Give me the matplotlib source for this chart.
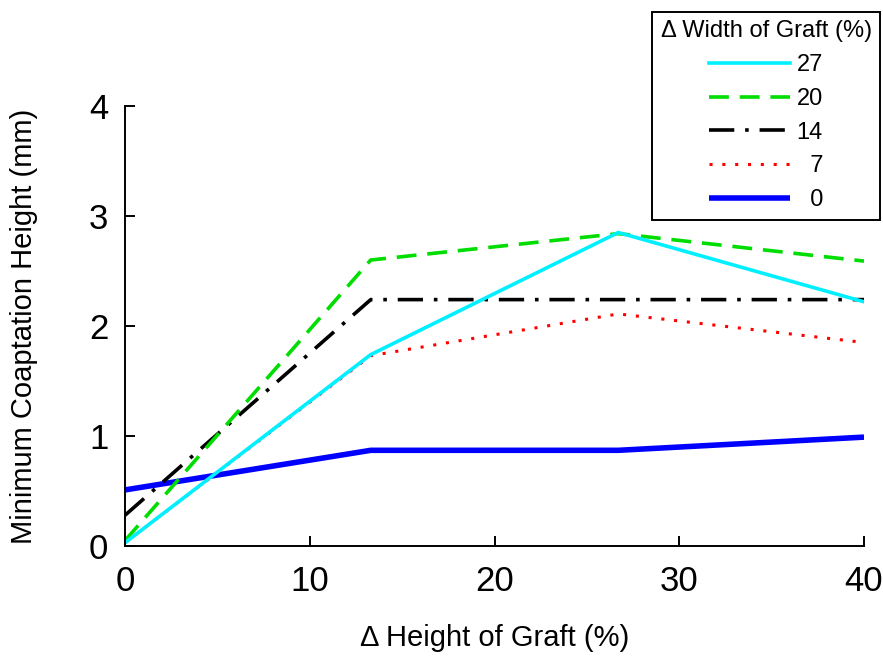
import matplotlib
matplotlib.use("Agg")
import matplotlib.pyplot as plt

plt.rcParams["font.family"] = ["Liberation Sans", "DejaVu Sans"]

# Data
height = [0, 13.3, 26.7, 40]
w27 = [0.03, 1.74, 2.85, 2.22]
w20 = [0.05, 2.60, 2.84, 2.59]
w14 = [0.28, 2.24, 2.24, 2.24]
w7 = [0.03, 1.73, 2.11, 1.85]
w0 = [0.51, 0.87, 0.87, 0.99]

fig = plt.figure(figsize=(8.83, 6.6), dpi=100)
ax = fig.add_axes([0.1416, 0.1727, 0.8369, 0.6667])

l0, = ax.plot(height, w0, color="#0000ff", lw=4.0, solid_capstyle="butt")
l7, = ax.plot(height, w7, color="#ff0000", lw=2.2, linestyle=(0, (1.0, 3.2)))
l14, = ax.plot(height, w14, color="black", lw=2.6, linestyle=(0, (7, 3, 1, 3)))
l20, = ax.plot(height, w20, color="#00dd00", lw=2.6, linestyle=(0, (5.5, 3)))
l27, = ax.plot(height, w27, color="#00f0ff", lw=2.6)

ax.set_xlim(0, 40)
ax.set_ylim(0, 4)
ax.set_xticks([0, 10, 20, 30, 40])
ax.set_yticks([0, 1, 2, 3, 4])

ax.spines["top"].set_visible(False)
ax.spines["right"].set_visible(False)
for s in ["left", "bottom"]:
    ax.spines[s].set_linewidth(1.4)

ax.tick_params(axis="both", direction="in", length=7, width=1.4, labelsize=25)
ax.tick_params(axis="x", pad=14)
ax.tick_params(axis="y", pad=12)

ax.set_xlabel("\u0394 Height of Graft (%)", fontsize=21)
ax.set_ylabel("Minimum Coaptation Height (mm)", fontsize=21)
ax.xaxis.set_label_coords(0.5, -0.178)
ax.yaxis.set_label_coords(-0.118, 0.5)

leg = fig.legend([l27, l20, l14, l7, l0],
                 ["27", "20", "14", "  7", "  0"],
                 title="\u0394 Width of Graft (%)",
                 loc="upper right",
                 bbox_to_anchor=(880 / 883, 1 - 12 / 660),
                 fontsize=17, title_fontsize=17,
                 handlelength=3.4, handletextpad=0.3, labelspacing=0.5,
                 borderpad=0.35, borderaxespad=0, fancybox=False, framealpha=1,
                 edgecolor="black")
leg.get_frame().set_linewidth(1.4)

fig.savefig("out.png", dpi=100)
